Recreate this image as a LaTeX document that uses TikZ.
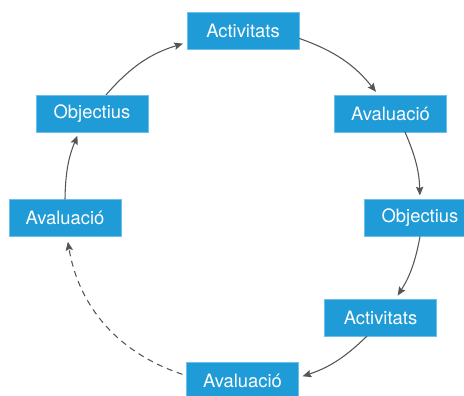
\documentclass[tikz,border=0pt]{standalone}
\usepackage{fontspec}
\setmainfont{TeX Gyre Heros}
\usetikzlibrary{arrows.meta}
\definecolor{stepblue}{HTML}{1F9BD7}
\definecolor{stepedge}{HTML}{6CC0EA}
\definecolor{arrowgray}{HTML}{555555}

\begin{document}
\begin{tikzpicture}[x=0.75pt,y=-0.75pt,>={Stealth[length=6.5pt,width=5.5pt,inset=1pt]},
  stepbox/.style={fill=stepblue,draw=stepedge,line width=0.4pt,text=white,
    minimum width=84pt,minimum height=27.4pt,inner sep=0pt,font=\fontsize{13.8}{16}\selectfont},
  cycle/.style={->,draw=arrowgray,line width=0.8pt,shorten >=3pt}]
\useasboundingbox (0,0) rectangle (464,396);
% boxes round the circle
\node[stepbox] (act1) at (243,30.5) {Activitats};
\node[stepbox] (ava1) at (390.5,113.5) {Avaluació};
\node[stepbox] (obj1) at (420,218) {Objectius};
\node[stepbox] (act2) at (380.5,317.5) {Activitats};
\node[stepbox] (ava2) at (242.5,380.5) {Avaluació};
\node[stepbox] (ava3) at (65,218) {Avaluació};
\node[stepbox] (obj2) at (92,113.5) {Objectius};
% clockwise arcs
\draw[cycle] (act1.-8) to[bend left=16] (ava1.123);
\draw[cycle] (ava1.-52) to[bend left=11] (obj1.north);
\draw[cycle] (obj1.south) to[bend left=11] (act2.51);
\draw[cycle] (act2.-126) to[bend left=13] (ava2.3);
\draw[cycle,dash pattern=on 4.5pt off 3.5pt,shorten <=3pt,shorten >=4pt] (ava2.175) to[bend left=31] (ava3.-84);
\draw[cycle] (ava3.north) to[bend left=11] (obj2.-125);
\draw[cycle] (obj2.53) to[bend left=16] (act1.192);
\end{tikzpicture}
\end{document}
